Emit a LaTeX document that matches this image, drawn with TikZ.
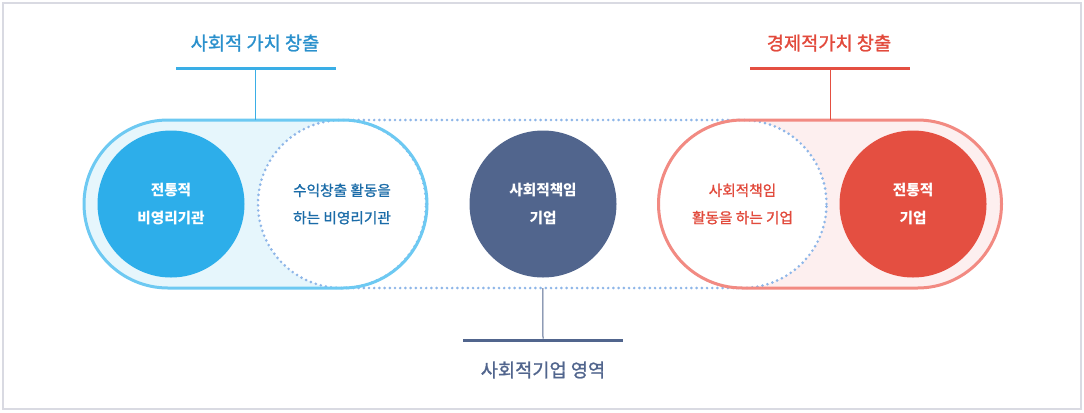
\documentclass[tikz,border=0pt]{standalone}
\usepackage{fontspec}
\setmainfont{Noto Sans CJK KR}
\newfontfamily\krmid[FakeBold=1.2]{Noto Sans CJK KR}
\usetikzlibrary{positioning}
\definecolor{frame}{HTML}{D9DAE2}
\definecolor{skyrim}{HTML}{6DC9F2}
\definecolor{skyfill}{HTML}{E6F6FC}
\definecolor{skycore}{HTML}{2DAEEA}
\definecolor{skybar}{HTML}{3AAEE6}
\definecolor{skytitle}{HTML}{2A90CC}
\definecolor{skytext}{HTML}{1B6CA8}
\definecolor{roserim}{HTML}{F28A82}
\definecolor{rosefill}{HTML}{FDEFEF}
\definecolor{rosecore}{HTML}{E44F41}
\definecolor{rosetext}{HTML}{E24A3C}
\definecolor{navy}{HTML}{51658D}
\definecolor{dotblue}{HTML}{8EB6E8}
\begin{document}
\begin{tikzpicture}[
					x=0.75pt, y=-0.75pt,
					pill/.style={rectangle, rounded corners=63pt, minimum width=257.25pt, minimum height=126pt, inner sep=0pt, outer sep=0pt, line width=2.25pt},
					dotline/.style={draw=dotblue, line width=2.2pt, dash pattern=on 0pt off 3.9pt, line cap=round},
					ring/.style={circle, minimum size=126pt, inner sep=0pt, outer sep=0pt, fill=white, dotline, align=center, font=\fontsize{11}{20.5}\krmid},
					core/.style={circle, minimum size=110.25pt, inner sep=0pt, fill=#1, text=white, align=center, font=\fontsize{11}{20.5}\selectfont\bfseries},
					bar/.style={rectangle, minimum width=120pt, minimum height=2.25pt, inner sep=0pt, outer sep=0pt, fill=#1},
					title/.style={font=\fontsize{14}{16}\krmid, text=#1},
					stem/.style={line width=0.75pt, draw=#1}
					]
					\useasboundingbox (0,0) rectangle (1084,412);
					\draw[frame, line width=1.5pt] (3,3) rectangle (1081,409);
					% dotted zone behind the pills
					\node[minimum width=299.6pt, minimum height=126pt, inner sep=0pt, outer sep=0pt] (zone) at (542.75,204) {};
					\draw[dotline] (zone.north west) -- (zone.north east) (zone.south west) -- (zone.south east);
					% left pill
					\node[pill, fill=skyfill] (lpill) at (255.5,204) {};
					\node[ring, text=skytext] (lring) at (342,204) {수익창출 활동을\\하는 비영리기관};
					\node[pill, draw=skyrim] (lrim) at (lpill.center) {};
					\node[core=skycore] (lcore) at (171,204) {전통적\\비영리기관};
					% right pill
					\node[pill, fill=rosefill] (rpill) at (830,204) {};
					\node[ring, text=rosetext] (rring) at (742.5,204) {사회적책임\\활동을 하는 기업};
					\node[pill, draw=roserim] (rrim) at (rpill.center) {};
					\node[core=rosecore] (rcore) at (913,204) {전통적\\기업};
					% middle
					\node[core=navy] (mid) at (543,204) {사회적책임\\기업};
					% titles
					\node[title=skytitle] (ltitle) at (255,43) {사회적 가치 창출};
					\node[bar=skybar] (lbar) at (255.5,68) {};
					\draw[stem=skybar] (lbar.south) -- (lrim.north);
					\node[title=rosetext] (rtitle) at (829,43) {경제적가치 창출};
					\node[bar=rosecore] (rbar) at (830,68) {};
					\draw[stem=rosecore] (rbar.south) -- (rrim.north);
					\node[bar=navy] (sbar) at (543,340) {};
					\draw[stem=navy] (zone.south) -- (sbar.north);
					\node[title=navy] (stitle) at (543,370) {사회적기업 영역};
				\end{tikzpicture}
\end{document}
